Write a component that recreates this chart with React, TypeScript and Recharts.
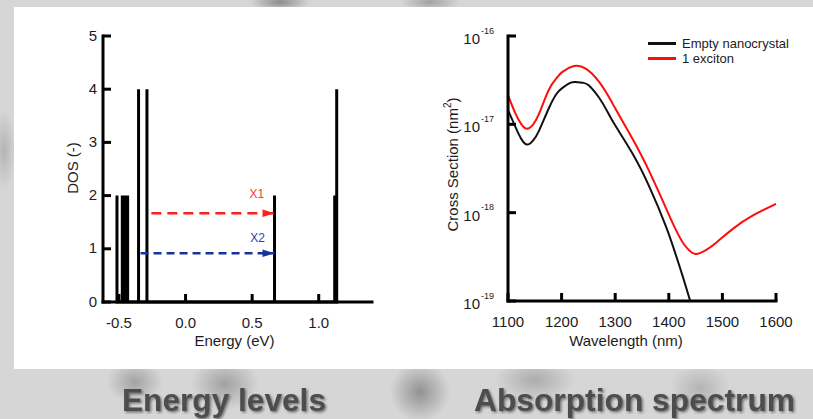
import React from "react";
import { ComposedChart, LineChart, Line, XAxis, YAxis, ReferenceDot } from "recharts";

const FONT = '"Liberation Sans", Arial, sans-serif';
const INK = "#1c1c1c";

// energy levels (eV) and their degeneracy
const levelEnergy = [-0.515, -0.475, -0.467, -0.459, -0.451, -0.443, -0.435, -0.353, -0.29, 0.668, 1.12, 1.135];
const levelDos = [2, 2, 2, 2, 2, 2, 2, 4, 4, 2, 2, 4];
const energyTicks = [-0.5, 0, 0.5, 1];
const dosTicks = [0, 1, 2, 3, 4, 5];

// optical transitions (dashed arrows)
const transitionNames = ["X1", "X2"];
const transitionFrom = [-0.257, -0.338];
const transitionTo = [0.668, 0.668];
const transitionDos = [1.667, 0.915];
const transitionColors = ["#ff1f1f", "#1a3399"];
const transitionLabelColors = ["#ff3b3b", "#3d3aa8"];
const transitionLabelEnergy = [0.535, 0.54];
const transitionLabelDos = [2.03, 1.2];

// absorption cross section (nm^2)
const wavelengthEmpty = [1100, 1114, 1125, 1136, 1147, 1158, 1176, 1190, 1201, 1215, 1226, 1240, 1251, 1270, 1285, 1301, 1332, 1364, 1395, 1414, 1426, 1440];
const crossEmpty = [1.45e-17, 9.3e-18, 6.8e-18, 5.9e-18, 6.6e-18, 8.5e-18, 1.51e-17, 2.19e-17, 2.57e-17, 2.92e-17, 3.02e-17, 2.95e-17, 2.75e-17, 2.0e-17, 1.41e-17, 9.5e-18, 4.7e-18, 1.95e-18, 6.9e-19, 3.2e-19, 1.9e-19, 1.0e-19];
const wavelengthExciton = [1100, 1114, 1125, 1136, 1147, 1158, 1176, 1190, 1201, 1223, 1245, 1270, 1292, 1301, 1332, 1351, 1364, 1386, 1400, 1417, 1430, 1440, 1451, 1470, 1489, 1520, 1557, 1600];
const crossExciton = [2.14e-17, 1.32e-17, 1.0e-17, 8.9e-18, 1.0e-17, 1.32e-17, 2.45e-17, 3.3e-17, 3.9e-17, 4.57e-17, 4.27e-17, 3.02e-17, 1.86e-17, 1.48e-17, 6.9e-18, 4.2e-18, 2.9e-18, 1.48e-18, 9.5e-19, 5.75e-19, 4.25e-19, 3.65e-19, 3.4e-19, 3.8e-19, 4.6e-19, 6.6e-19, 9.3e-19, 1.26e-18];
const wavelengthTicks = [1100, 1200, 1300, 1400, 1500, 1600];
const crossTicks = [1e-19, 1e-18, 1e-17, 1e-16];
const seriesNames = ["Empty nanocrystal", "1 exciton"];
const seriesColors = ["#111111", "#ff0d0d"];

const panelTitles = ["Energy levels", "Absorption spectrum"];

// each level becomes a vertical stick: baseline -> value -> baseline
const stickData = levelEnergy.flatMap((e, i) => [
  { e, dos: 0 },
  { e, dos: levelDos[i] },
  { e, dos: 0 },
]);

const emptyData = wavelengthEmpty.map((nm, i) => ({ nm, cs: crossEmpty[i] }));
const excitonData = wavelengthExciton.map((nm, i) => ({ nm, cs: crossExciton[i] }));

const axisLine = { stroke: "#000", strokeWidth: 3, strokeLinecap: "square" };

const BottomTick = (props: any) => {
  const { x, y, payload, fmt } = props;
  return (
    <g>
      <line x1={x} y1={y} x2={x} y2={y - 8} stroke="#000" strokeWidth={3} />
      <text x={x} y={y + 26} textAnchor="middle" fontSize={15} fill={INK} fontFamily={FONT}>
        {fmt ? fmt(payload.value) : payload.value}
      </text>
    </g>
  );
};

const LeftTick = (props: any) => {
  const { x, y, payload } = props;
  return (
    <g>
      <line x1={x} y1={y} x2={x + 8} y2={y} stroke="#000" strokeWidth={3} />
      <text x={x - 6} y={y + 4.5} textAnchor="end" fontSize={15} fill={INK} fontFamily={FONT}>
        {payload.value}
      </text>
    </g>
  );
};

const LogTick = (props: any) => {
  const { x, y, payload } = props;
  const exp = Math.round(Math.log10(payload.value));
  return (
    <g>
      <line x1={x} y1={y} x2={x + 8} y2={y} stroke="#000" strokeWidth={3} />
      <text x={x - 28} y={y + 8} textAnchor="end" fontSize={15} fill={INK} fontFamily={FONT}>
        10
      </text>
      <text x={x - 27} y={y - 2.5} textAnchor="start" fontSize={9} fill={INK} fontFamily={FONT}>
        {exp}
      </text>
    </g>
  );
};

const fmtEnergy = (v: number) => v.toFixed(1);

const ArrowHead = (color: string) => (props: any) => {
  const { cx, cy, index } = props;
  if (index !== 1) return <g key={`a${index}`} />;
  return (
    <polygon
      key={`a${index}`}
      points={`${cx},${cy} ${cx - 12},${cy - 3.8} ${cx - 12},${cy + 3.8}`}
      fill={color}
    />
  );
};

const LevelsChart = () => (
  <ComposedChart width={370} height={340} margin={{ top: 16, right: 18, bottom: 18, left: 38 }}>
    <XAxis
      type="number"
      dataKey="e"
      domain={[-0.62, 1.4]}
      ticks={energyTicks}
      interval={0}
      allowDataOverflow
      height={40}
      tickSize={0}
      tickMargin={0}
      tickLine={false}
      axisLine={axisLine}
      tick={<BottomTick fmt={fmtEnergy} />}
      label={{
        content: (p: any) => (
          <text
            x={p.viewBox.x + p.viewBox.width / 2 - 3}
            y={p.viewBox.y + 44}
            textAnchor="middle"
            fontSize={15}
            fill={INK}
            fontFamily={FONT}
          >
            Energy (eV)
          </text>
        ),
      }}
    />
    <YAxis
      type="number"
      dataKey="dos"
      domain={[0, 5]}
      ticks={dosTicks}
      interval={0}
      width={45}
      tickSize={0}
      tickMargin={0}
      tickLine={false}
      axisLine={axisLine}
      tick={<LeftTick />}
      label={{
        content: (p: any) => (
          <text
            transform={`translate(${p.viewBox.x + 19.5},${p.viewBox.y + p.viewBox.height / 2 - 1}) rotate(-90)`}
            textAnchor="middle"
            fontSize={15}
            fill={INK}
            fontFamily={FONT}
          >
            DOS (-)
          </text>
        ),
      }}
    />
    <Line
      data={stickData}
      dataKey="dos"
      type="linear"
      stroke="#000"
      strokeWidth={3}
      dot={false}
      isAnimationActive={false}
    />
    {transitionNames.map((name, i) => (
      <Line
        key={name}
        data={[
          { e: transitionFrom[i], dos: transitionDos[i] },
          { e: transitionTo[i], dos: transitionDos[i] },
        ]}
        dataKey="dos"
        type="linear"
        stroke={transitionColors[i]}
        strokeWidth={2.6}
        strokeDasharray={i === 0 ? "10 6" : "8 5"}
        dot={ArrowHead(transitionColors[i])}
        activeDot={false}
        isAnimationActive={false}
      />
    ))}
    {transitionNames.map((name, i) => (
      <ReferenceDot
        key={`lbl-${name}`}
        x={transitionLabelEnergy[i]}
        y={transitionLabelDos[i]}
        shape={(p: any) => (
          <text
            x={p.cx}
            y={p.cy + 4}
            textAnchor="middle"
            fontSize={12}
            fill={transitionLabelColors[i]}
            fontFamily={FONT}
          >
            {name}
          </text>
        )}
      />
    ))}
  </ComposedChart>
);

const SpectrumChart = () => (
  <LineChart width={390} height={340} margin={{ top: 16, right: 34, bottom: 19, left: 38 }}>
    <XAxis
      type="number"
      dataKey="nm"
      domain={[1100, 1600]}
      ticks={wavelengthTicks}
      interval={0}
      allowDataOverflow
      height={40}
      tickSize={0}
      tickMargin={0}
      tickLine={false}
      axisLine={axisLine}
      tick={<BottomTick />}
      label={{
        content: (p: any) => (
          <text
            x={p.viewBox.x + p.viewBox.width / 2 - 16}
            y={p.viewBox.y + 45}
            textAnchor="middle"
            fontSize={15}
            fill={INK}
            fontFamily={FONT}
          >
            Wavelength (nm)
          </text>
        ),
      }}
    />
    <YAxis
      type="number"
      dataKey="cs"
      scale="log"
      domain={[1e-19, 1e-16]}
      ticks={crossTicks}
      interval={0}
      allowDataOverflow
      width={50}
      tickSize={0}
      tickMargin={0}
      tickLine={false}
      axisLine={axisLine}
      tick={<LogTick />}
      label={{
        content: (p: any) => (
          <text
            transform={`translate(${p.viewBox.x - 0.5},${p.viewBox.y + p.viewBox.height / 2 - 4}) rotate(-90)`}
            textAnchor="middle"
            fontSize={15}
            fill={INK}
            fontFamily={FONT}
          >
            Cross Section (nm
            <tspan dy={-7} fontSize={10}>
              2
            </tspan>
            <tspan dy={7}>)</tspan>
          </text>
        ),
      }}
    />
    <Line
      data={emptyData}
      dataKey="cs"
      name={seriesNames[0]}
      type="natural"
      stroke={seriesColors[0]}
      strokeWidth={2}
      dot={false}
      isAnimationActive={false}
    />
    <Line
      data={excitonData}
      dataKey="cs"
      name={seriesNames[1]}
      type="natural"
      stroke={seriesColors[1]}
      strokeWidth={2}
      dot={false}
      isAnimationActive={false}
    />
  </LineChart>
);

const pageBackground = {
  backgroundColor: "#d6d6d6",
  backgroundImage: [
    "radial-gradient(ellipse 28px 22px at 135px 382px, rgba(120,120,120,.55), rgba(120,120,120,0))",
    "radial-gradient(ellipse 34px 26px at 225px 384px, rgba(110,110,110,.5), rgba(110,110,110,0))",
    "radial-gradient(ellipse 30px 30px at 420px 392px, rgba(100,100,100,.6), rgba(100,100,100,0))",
    "radial-gradient(ellipse 40px 22px at 535px 380px, rgba(120,120,120,.45), rgba(120,120,120,0))",
    "radial-gradient(ellipse 30px 24px at 700px 388px, rgba(130,130,130,.4), rgba(130,130,130,0))",
    "radial-gradient(ellipse 30px 10px at 280px 2px, rgba(90,90,90,.6), rgba(90,90,90,0))",
    "radial-gradient(ellipse 30px 10px at 430px 2px, rgba(110,110,110,.5), rgba(110,110,110,0))",
    "radial-gradient(ellipse 12px 40px at 4px 150px, rgba(130,130,130,.4), rgba(130,130,130,0))",
  ].join(","),
};

export default function App() {
  return (
    <div
      style={{
        position: "absolute",
        left: 0,
        top: 0,
        width: 813,
        height: 419,
        overflow: "hidden",
        fontFamily: FONT,
        ...pageBackground,
      }}
    >
      <div style={{ position: "absolute", left: 14, top: 7, width: 799, height: 362, background: "#fff" }} />
      <div style={{ position: "absolute", left: 20, top: 20 }}>
        <LevelsChart />
      </div>
      <div style={{ position: "absolute", left: 420, top: 20 }}>
        <SpectrumChart />
      </div>
      <div style={{ position: "absolute", left: 648, top: 36, fontSize: 13, color: INK, lineHeight: "15px" }}>
        {seriesNames.map((name, i) => (
          <div key={name} style={{ display: "flex", alignItems: "center", height: 15 }}>
            <span style={{ display: "inline-block", width: 28, height: 2.5, background: seriesColors[i], marginRight: 6 }} />
            <span>{name}</span>
          </div>
        ))}
      </div>
      <svg width={813} height={50} style={{ position: "absolute", left: 0, top: 369 }}>
        <defs>
          <filter id="shadow" x="-5%" y="-20%" width="110%" height="150%">
            <feDropShadow dx="1.5" dy="1.5" stdDeviation="1" floodColor="#1a1a1a" floodOpacity="0.55" />
          </filter>
        </defs>
        {panelTitles.map((t, i) => (
          <text
            key={t}
            x={i === 0 ? 122 : 474}
            y={42}
            textLength={i === 0 ? 204 : 321}
            lengthAdjust="spacingAndGlyphs"
            fontSize={31}
            fontWeight="bold"
            fill="#4e4e4e"
            fontFamily={FONT}
            filter="url(#shadow)"
          >
            {t}
          </text>
        ))}
      </svg>
    </div>
  );
}
